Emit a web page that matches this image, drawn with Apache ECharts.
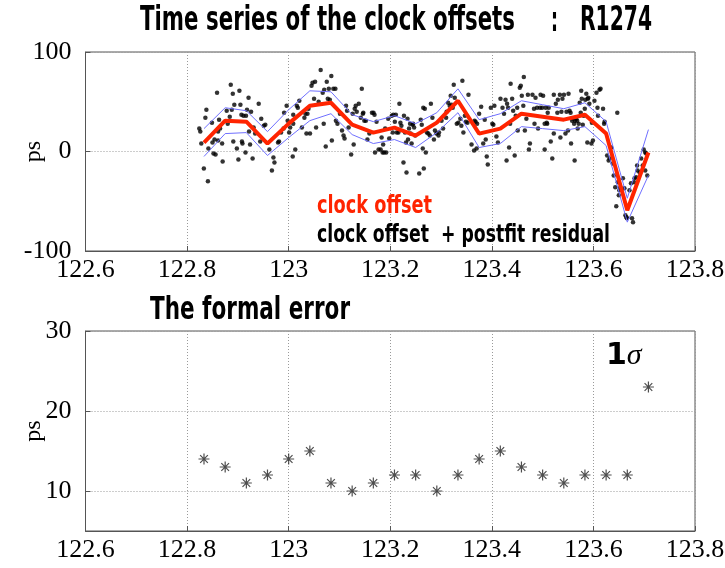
<!DOCTYPE html>
<html><head><meta charset="utf-8">
<script src="https://cdn.jsdelivr.net/npm/echarts@6/dist/echarts.min.js"></script>
<style>html,body{margin:0;padding:0;background:#fff}#c{width:725px;height:568px}</style>
</head><body><div id="c"></div>
<script>
// hourly epochs (day of year)
const hourTimes = [122.8333,122.875,122.9167,122.9583,123.0,123.0417,123.0833,123.125,123.1667,123.2083,123.25,123.2917,123.3333,123.375,123.4167,123.4583,123.5,123.5417,123.5833,123.625,123.6667,123.7083];
// clock offset (ps)
const clockOffset = [9,31,30,8,28,46,49,27,19,24,16,29,51,18,23,38,35,32,37,18,-59,-1];
// formal error 1 sigma (ps)
const formalError = [14,13,11,12,14,15,11,10,11,12,12,10,12,14,15,13,12,11,12,12,12,23];
// clock offset + postfit residual [day, ps]
const residualPoints = [
[122.824,23],[122.826,20],[122.828,8],[122.833,-17],[122.836,34],[122.838,42],[122.841,-30],[122.842,3],[122.849,29],[122.850,9],
[122.852,-2],[122.854,12],[122.856,-3],[122.859,59],[122.861,20],[122.861,11],[122.863,32],[122.865,23],[122.869,8],[122.870,-10],
[122.878,41],[122.880,28],[122.884,35],[122.886,67],[122.888,42],[122.890,58],[122.891,10],[122.893,47],[122.898,3],[122.901,-8],
[122.903,61],[122.905,47],[122.907,37],[122.908,10],[122.909,8],[122.911,36],[122.915,-1],[122.916,36],[122.918,42],[122.921,54],
[122.922,20],[122.924,7],[122.926,40],[122.929,-7],[122.931,24],[122.934,18],[122.941,48],[122.944,10],[122.946,33],[122.951,26],
[122.954,27],[122.962,2],[122.967,-19],[122.970,-6],[122.972,-11],[122.979,9],[122.981,10],[122.985,19],[122.990,23],[122.991,39],
[122.996,46],[122.998,31],[123.001,19],[123.003,24],[123.008,-5],[123.009,37],[123.009,28],[123.013,2],[123.016,46],[123.018,44],
[123.021,51],[123.026,24],[123.031,34],[123.033,38],[123.035,18],[123.037,38],[123.039,43],[123.042,18],[123.045,66],[123.047,69],
[123.050,53],[123.052,70],[123.054,24],[123.059,50],[123.063,82],[123.067,59],[123.069,28],[123.070,62],[123.073,5],[123.075,70],
[123.077,53],[123.079,63],[123.081,52],[123.084,76],[123.085,11],[123.088,63],[123.092,63],[123.093,31],[123.096,28],[123.101,38],
[123.105,21],[123.108,16],[123.110,13],[123.113,46],[123.115,41],[123.118,24],[123.123,-3],[123.126,38],[123.128,7],[123.130,43],
[123.132,46],[123.134,40],[123.138,48],[123.142,34],[123.144,63],[123.146,38],[123.147,39],[123.149,31],[123.152,31],[123.155,12],
[123.159,18],[123.164,39],[123.167,39],[123.169,37],[123.170,-1],[123.173,30],[123.177,2],
[123.181,2],[123.183,14],[123.185,-1],[123.186,7],[123.188,-1],[123.190,23],[123.192,-1],[123.196,33],[123.198,13],[123.203,36],
[123.205,19],[123.206,37],[123.209,30],[123.211,37],[123.213,19],[123.216,19],[123.218,48],[123.220,29],[123.222,26],[123.226,-11],
[123.227,36],[123.229,19],[123.231,9],[123.232,-21],[123.234,33],[123.235,12],[123.237,23],[123.239,28],[123.240,18],[123.242,8],
[123.244,27],[123.245,28],[123.247,24],[123.249,16],[123.257,-22],[123.260,32],[123.262,27],[123.264,3],[123.265,44],[123.266,-17],
[123.268,43],[123.270,-1],[123.272,19],[123.275,18],[123.278,16],[123.280,48],[123.283,34],[123.286,12],[123.288,21],[123.291,18],
[123.295,16],[123.296,19],[123.301,31],[123.304,23],[123.310,34],[123.311,40],[123.314,49],[123.317,46],[123.319,56],[123.321,47],
[123.323,44],[123.325,67],[123.327,54],[123.331,28],[123.334,29],[123.338,33],[123.340,26],[123.342,71],[123.344,19],[123.347,36],
[123.349,30],[123.352,29],[123.354,57],[123.360,7],[123.365,1],
[123.366,31],[123.368,30],[123.370,3],[123.371,28],[123.375,38],[123.379,45],[123.383,8],[123.386,32],[123.388,12],[123.390,-5],
[123.392,-13],[123.398,44],[123.401,28],[123.403,27],[123.405,46],[123.409,15],[123.412,9],[123.417,53],[123.421,44],[123.424,38],
[123.427,52],[123.429,-9],[123.430,48],[123.432,44],[123.434,4],[123.436,28],[123.437,68],[123.440,53],[123.442,41],[123.445,-4],
[123.447,36],[123.450,44],[123.451,21],[123.455,64],[123.457,66],[123.459,56],[123.462,46],[123.463,75],[123.465,21],[123.468,33],
[123.471,57],[123.473,2],[123.475,8],[123.480,57],[123.483,43],[123.484,28],[123.486,54],[123.489,44],[123.491,23],[123.495,44],
[123.496,57],[123.499,44],[123.501,56],[123.504,28],[123.504,2],[123.506,44],[123.508,29],[123.509,28],[123.510,39],[123.512,44],
[123.516,10],[123.519,-7],[123.522,57],[123.522,18],[123.526,48],[123.529,39],[123.530,52],[123.534,57],[123.535,14],[123.537,40],
[123.539,53],[123.542,57],[123.545,18],[123.547,40],[123.550,21],
[123.551,58],[123.553,41],[123.555,39],[123.556,8],[123.558,31],[123.560,33],[123.562,28],[123.563,-9],[123.564,31],[123.566,33],
[123.568,31],[123.569,23],[123.571,28],[123.573,49],[123.575,39],[123.576,61],[123.577,53],[123.579,27],[123.581,36],[123.583,43],
[123.584,52],[123.586,58],[123.588,9],[123.589,53],[123.590,54],[123.592,48],[123.596,8],[123.597,29],[123.599,11],[123.602,51],
[123.606,59],[123.608,44],[123.609,36],[123.612,62],[123.614,63],[123.619,43],[123.621,28],[123.622,30],[123.627,-4],[123.630,-9],
[123.632,-7],[123.635,4],[123.638,-12],[123.640,-24],[123.643,-36],[123.645,-55],[123.647,39],[123.648,-31],[123.650,-44],[123.651,-39],
[123.653,-36],[123.658,-27],[123.661,-37],[123.663,-64],[123.665,-66],[123.666,-67],[123.671,-39],[123.674,-32],[123.676,-67],[123.678,-71],
[123.680,-31],[123.681,-27],[123.684,-26],[123.686,-14],[123.687,-19],[123.691,-21],[123.694,-7],[123.697,-14],[123.699,2],[123.702,-1],
[123.704,-2],[123.706,-24],[123.702,-19]
];
// axis settings
const xMin = 122.6, xMax = 123.8, xStep = 0.2;
const topYMin = -100, topYMax = 100, topYStep = 100;
const botYMin = 5, botYMax = 30, botYTicks = [10, 20, 30];

const upperBand = hourTimes.map((t, i) => [t, clockOffset[i] + formalError[i]]);
const lowerBand = hourTimes.map((t, i) => [t, clockOffset[i] - formalError[i]]);
const offsetLine = hourTimes.map((t, i) => [t, clockOffset[i]]);
const errorPoints = hourTimes.map((t, i) => [t, formalError[i]]);

const chart = echarts.init(document.getElementById('c'), null, {renderer: 'canvas'});

const serif = "'Liberation Serif', 'DejaVu Serif', serif";
const heavy = "'DejaVu Sans', sans-serif";
const ctx = document.createElement('canvas').getContext('2d');
function fitText(text, x, y, width, size, color) {
  const font = 'bold ' + size + 'px ' + heavy;
  ctx.font = font;
  const w = ctx.measureText(text).width;
  return {type: 'text', x: x, y: y, scaleX: width / w, z: 100,
    style: {text: text, font: font, fill: color, textAlign: 'left', textVerticalAlign: 'middle'}};
}

const axisLabelStyle = {color: '#000', fontFamily: serif, fontSize: 26};
const gridLine = {show: true, lineStyle: {color: '#9a9a9a', type: [1, 2], width: 1}};
const tick = {show: true, inside: true, length: 5, lineStyle: {color: '#555'}};
const nameStyle = {fontFamily: serif, fontSize: 24, color: '#000'};

const asterisk = 'path://M5,0L5,10M0,5L10,5M1.5,1.5L8.5,8.5M1.5,8.5L8.5,1.5';

function xAxisFor(g) {
  return {gridIndex: g, type: 'value', min: xMin, max: xMax, interval: xStep,
    axisLine: {show: true, onZero: false, lineStyle: {color: '#555'}}, axisTick: tick, splitLine: gridLine,
    axisLabel: Object.assign({margin: 6}, axisLabelStyle)};
}

chart.setOption({
  animation: false,
  grid: [
    {left: 85.5, width: 609.5, top: 52, height: 199, show: true, borderColor: '#555', borderWidth: 1,
     containLabel: false, outerBoundsMode: 'none'},
    {left: 85.5, width: 609.5, top: 331, height: 200, show: true, borderColor: '#555', borderWidth: 1,
     containLabel: false, outerBoundsMode: 'none'}
  ],
  xAxis: [xAxisFor(0), xAxisFor(1)],
  yAxis: [
    {gridIndex: 0, type: 'value', min: topYMin, max: topYMax, interval: topYStep,
     name: 'ps', nameLocation: 'middle', nameGap: 40, nameRotate: 90, nameMoveOverlap: false,
     nameTextStyle: nameStyle,
     axisLine: {show: true, onZero: false, lineStyle: {color: '#555'}}, axisTick: tick, splitLine: gridLine,
     axisLabel: Object.assign({margin: 14}, axisLabelStyle)},
    {gridIndex: 1, type: 'value', min: botYMin, max: botYMax,
     name: 'ps', nameLocation: 'middle', nameGap: 40, nameRotate: 90, nameMoveOverlap: false,
     nameTextStyle: nameStyle,
     axisLine: {show: true, onZero: false, lineStyle: {color: '#555'}},
     axisTick: Object.assign({customValues: botYTicks}, tick),
     splitLine: gridLine,
     axisLabel: Object.assign({margin: 14, customValues: botYTicks}, axisLabelStyle)}
  ],
  series: [
    {type: 'scatter', xAxisIndex: 0, yAxisIndex: 0, data: residualPoints, symbol: 'circle', symbolSize: 4.5,
     itemStyle: {color: '#000'}, z: 1, silent: true},
    {type: 'line', xAxisIndex: 0, yAxisIndex: 0, data: upperBand, showSymbol: false, symbol: 'none',
     lineStyle: {color: '#6f6fff', width: 1}, z: 2, silent: true},
    {type: 'line', xAxisIndex: 0, yAxisIndex: 0, data: lowerBand, showSymbol: false, symbol: 'none',
     lineStyle: {color: '#6f6fff', width: 1}, z: 2, silent: true},
    {type: 'line', xAxisIndex: 0, yAxisIndex: 0, data: offsetLine, showSymbol: false, symbol: 'none',
     lineStyle: {color: '#ff2400', width: 4}, z: 3, silent: true},
    {type: 'scatter', xAxisIndex: 1, yAxisIndex: 1, data: errorPoints, symbol: asterisk, symbolSize: 11,
     itemStyle: {color: 'none', borderColor: '#222', borderWidth: 1.2}, z: 3, silent: true}
  ],
  graphic: [
    fitText('Time series of the clock offsets', 140, 21, 375, 34, '#000'),
    fitText(':', 551, 22, 7, 34, '#000'),
    fitText('R1274', 580, 21, 72, 34, '#000'),
    fitText('The formal error', 150, 311, 200, 32, '#000'),
    fitText('clock offset', 317, 206, 115, 25, '#ff2400'),
    fitText('clock offset  + postfit residual', 317, 235, 293, 25, '#000'),
    {type: 'text', x: 606, y: 356, z: 100,
     style: {text: '{a|1}{b|σ}', textVerticalAlign: 'middle',
       rich: {a: {font: 'bold 30px ' + heavy, fill: '#000'}, b: {font: 'italic 30px ' + serif, fill: '#000'}}}}
  ]
});
</script>
</body></html>
